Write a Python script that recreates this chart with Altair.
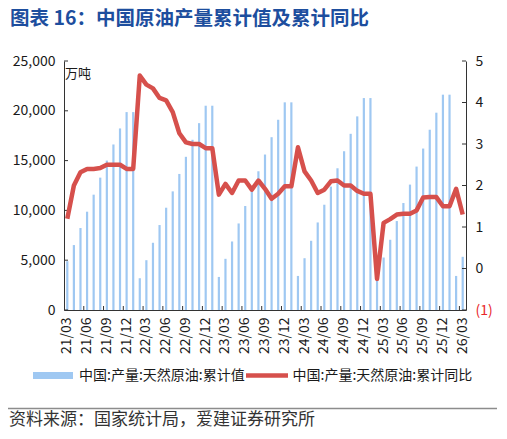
import altair as alt
import pandas as pd

# ---------------- data ----------------
year_months = ([(2021, m) for m in range(3, 13)]
               + [(y, m) for y in (2022, 2023, 2024, 2025) for m in range(1, 13)]
               + [(2026, m) for m in (1, 2, 3)])
months = [f"{y % 100:02d}/{m:02d}" for y, m in year_months]

# 中国:产量:天然原油:累计值 (万吨)
cum_value = [4900, 6520, 8230, 9870, 11580, 13290, 15000, 16620, 18230, 19870, 19870,
             3190, 5000, 6750, 8530, 10270, 11910, 13660, 15380, 17090, 18760, 20510, 20510,
             3320, 5140, 6880, 8690, 10440, 12200, 13930, 15610, 17350, 19100, 20850, 20850,
             3420, 5200, 6950, 8790, 10570, 12390, 14230, 15940, 17690, 19440, 21280, 21280,
             3450, 5270, 7050, 8930, 10740, 12590, 14400, 16210, 18100, 19810, 21620, 21620,
             3420, 5340]

# 中国:产量:天然原油:累计同比 (%)
cum_yoy = [1.2, 2.0, 2.32, 2.4, 2.4, 2.42, 2.5, 2.5, 2.5, 2.4, 2.4,
           4.65, 4.43, 4.34, 4.11, 4.05, 3.77, 3.26, 3.04, 3.0, 3.0, 2.9, 2.9,
           1.78, 2.04, 1.82, 2.12, 2.12, 1.9, 2.12, 1.92, 1.68, 1.8, 1.98, 1.98,
           2.92, 2.34, 2.12, 1.82, 1.9, 2.1, 2.12, 2.0, 2.0, 1.87, 1.8, 1.8,
           -0.25, 1.1, 1.19, 1.3, 1.32, 1.32, 1.4, 1.71, 1.72, 1.72, 1.5, 1.5,
           1.92, 1.3]

bar_name = "中国:产量:天然原油:累计值"
line_name = "中国:产量:天然原油:累计同比"
left_ticks = [0, 5000, 10000, 15000, 20000, 25000]
right_ticks = [-1, 0, 1, 2, 3, 4, 5]
x_label_values = months[::3]
x_tick_values = months[3::3]

title_text = "图表 16：中国原油产量累计值及累计同比"
unit_text = "万吨"
source_text = "资料来源：国家统计局，爱建证券研究所"

# ---------------- style ----------------
FONT = "Noto Sans CJK SC"
W, H = 402, 249
BLUE = "#9fc8f2"
RED = "#d6504c"
AXIS = "#333333"
TXT = "#1a1a1a"

df = pd.DataFrame({"m": months, "val": cum_value, "yoy": cum_yoy})
df["s1"] = bar_name
df["s2"] = line_name

xscale = alt.Scale(type="band", domain=months, paddingInner=0, paddingOuter=0)
xaxis = alt.Axis(values=x_label_values, labelAngle=270, labelFontSize=14, labelColor=TXT,
                 ticks=False, tickSize=0, labelPadding=7, title=None, domainColor=AXIS)
xenc = alt.X("m:N", scale=xscale, axis=xaxis)

lscale = alt.Scale(domain=[0, 25000], nice=False)
laxis = alt.Axis(values=left_ticks, labelExpr="format(datum.value, ',')", ticks=False,
                 tickSize=0, labelPadding=9, title=None, labelFontSize=14, labelColor=TXT,
                 domainColor=AXIS, orient="left")
rscale = alt.Scale(domain=[-1, 5], nice=False)
raxis = alt.Axis(orient="right", values=right_ticks, ticks=False, tickSize=0,
                 labelPadding=9, title=None, labelFontSize=14,
                 labelExpr="datum.value < 0 ? '(' + abs(datum.value) + ')' : datum.value",
                 labelColor={"condition": {"test": "datum.value < 0", "value": "#e8262b"},
                             "value": TXT},
                 domainColor=AXIS)

bars = alt.Chart(df).mark_bar(size=2.2).encode(
    x=xenc,
    y=alt.Y("val:Q", scale=lscale, axis=laxis),
    fill=alt.Fill("s1:N", scale=alt.Scale(domain=[bar_name], range=[BLUE]),
                  legend=alt.Legend(orient="none", legendX=-31, legendY=294.5, title=None,
                                    symbolType="M-1,-0.175L1,-0.175L1,0.175L-1,0.175Z",
                                    symbolSize=1600, symbolStrokeWidth=0, labelOffset=6,
                                    labelFontSize=14, labelColor=TXT, padding=0,
                                    labelLimit=400)),
)

lticks = alt.Chart(pd.DataFrame({"val": left_ticks})).mark_rule(color=AXIS).encode(
    y=alt.Y("val:Q", scale=lscale, axis=laxis),
    x=alt.value(0), x2=alt.value(4),
)

xticks = alt.Chart(pd.DataFrame({"m": x_tick_values})).mark_rule(color=AXIS).encode(
    x=alt.X("m:N", scale=xscale, axis=xaxis, bandPosition=0),
    y=alt.value(H), y2=alt.value(H - 4),
)

line = alt.Chart(df).mark_line(strokeWidth=4.5, strokeJoin="round", color=RED).encode(
    x=xenc,
    y=alt.Y("yoy:Q", scale=rscale, axis=raxis),
    stroke=alt.Stroke("s2:N", scale=alt.Scale(domain=[line_name], range=[RED]),
                      legend=alt.Legend(orient="none", legendX=179.5, legendY=291, title=None,
                                        symbolType="stroke", symbolSize=1764,
                                        symbolStrokeWidth=4.5, labelOffset=2,
                                        labelFontSize=14, labelColor=TXT, padding=0,
                                        labelLimit=400)),
)

rticks = alt.Chart(pd.DataFrame({"yoy": right_ticks})).mark_rule(color=AXIS).encode(
    y=alt.Y("yoy:Q", scale=rscale, axis=raxis),
    x=alt.value(W - 4), x2=alt.value(W),
)

title = alt.Chart(pd.DataFrame({"t": [title_text]})).mark_text(
    align="left", baseline="middle", fontSize=19.5, fontWeight="bold", color="#1d4e9e", font=FONT
).encode(text="t:N", x=alt.value(-54), y=alt.value(-42))

unit = alt.Chart(pd.DataFrame({"t": [unit_text]})).mark_text(
    align="left", baseline="middle", fontSize=13, color=TXT, font=FONT
).encode(text="t:N", x=alt.value(1), y=alt.value(12.5))

sep = alt.Chart(pd.DataFrame({"a": [0]})).mark_rule(color="#8c8c8c", strokeWidth=1.5).encode(
    x=alt.value(-56), x2=alt.value(W + 33), y=alt.value(347.5)
)

source = alt.Chart(pd.DataFrame({"t": [source_text]})).mark_text(
    align="left", baseline="middle", fontSize=17, color="#333333", font=FONT
).encode(text="t:N", x=alt.value(-55), y=alt.value(359))

left = alt.layer(bars, lticks, xticks)
right = alt.layer(line, rticks)

chart = alt.layer(left, right, title, unit, sep, source).resolve_scale(
    y="independent"
).properties(
    width=W, height=H,
    autosize=alt.AutoSizeParams(type="none"),
    padding={"left": 56, "top": 53, "right": 31, "bottom": 119},
).configure(font=FONT).configure_view(stroke=None).configure_axis(
    grid=False, labelFont=FONT, domainWidth=1
).configure_legend(labelFont=FONT)

chart.save("out.html", embed_options={"renderer": "svg", "actions": False})
